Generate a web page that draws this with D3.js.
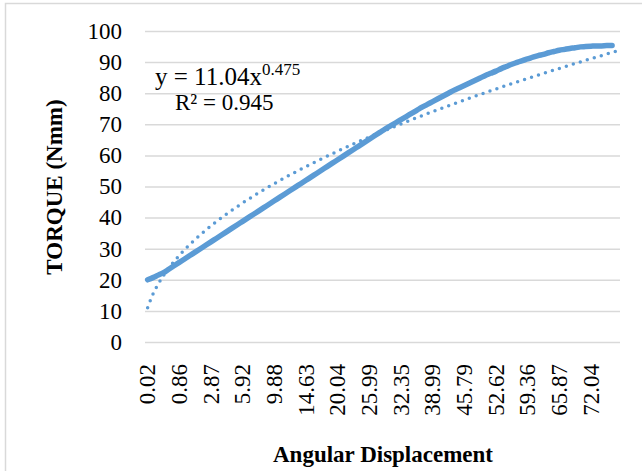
<!DOCTYPE html>
<html>
<head>
<meta charset="utf-8">
<script src="https://cdn.jsdelivr.net/npm/d3@7"></script>
<style>
  body { margin: 0; background: #fff; }
  svg { display: block; }
</style>
</head>
<body>
<div id="chart"></div>
<script>

// torque, one value per category (the last category has no point)
var torque = [
  20.0, 20.7, 21.5, 22.3, 23.4, 24.5, 25.6, 26.7, 27.8, 28.9,
  30.0, 31.1, 32.2, 33.3, 34.4, 35.5, 36.6, 37.7, 38.8, 39.9,
  41.0, 42.1, 43.2, 44.3, 45.4, 46.5, 47.6, 48.7, 49.8, 50.9,
  52.0, 53.1, 54.2, 55.3, 56.4, 57.5, 58.6, 59.7, 60.8, 61.9,
  63.0, 64.1, 65.2, 66.3, 67.4, 68.5, 69.5, 70.5, 71.5, 72.5,
  73.5, 74.5, 75.5, 76.4, 77.3, 78.2, 79.1, 80.0, 80.9, 81.7,
  82.5, 83.3, 84.1, 84.9, 85.7, 86.4, 87.1, 87.9, 88.6, 89.3,
  89.9, 90.5, 91.0, 91.6, 92.1, 92.5, 93.0, 93.4, 93.8, 94.1,
  94.4, 94.6, 94.9, 95.0, 95.1, 95.2, 95.2, 95.3, 95.3
];
var nCategories = 90;
// only every 6th angular displacement is printed on the axis
var xLabels = ["0.02", "0.86", "2.87", "5.92", "9.88", "14.63", "20.04", "25.99",
               "32.35", "38.99", "45.79", "52.62", "59.36", "65.87", "72.04"];
var labelEvery = 6;
var yTicks = [0, 10, 20, 30, 40, 50, 60, 70, 80, 90, 100];

// power trendline shown on the chart: y = 11.04 x^0.475
var trendA = 11.04, trendB = 0.475, trendR2 = "0.945";

var W = 642, H = 471;
var plotL = 145, plotR = 620, plotT = 31, plotB = 342;
var blue = "#5b9bd5", grid = "#d9d9d9";
var serif = "'Liberation Serif', 'Times New Roman', serif";

var svg = d3.select("#chart").append("svg")
    .attr("width", W)
    .attr("height", H);

// chart area frame
svg.append("rect")
    .attr("x", 5.5).attr("y", 3.5)
    .attr("width", W + 20).attr("height", H + 20)
    .attr("fill", "#fff")
    .attr("stroke", grid)
    .attr("stroke-width", 1.5);

var x = d3.scaleBand()
    .domain(d3.range(nCategories))
    .range([plotL, plotR])
    .padding(0);
var cx = function(i) { return x(i) + x.bandwidth() / 2; };

var y = d3.scaleLinear().domain([0, 100]).range([plotB, plotT]);

// gridlines + y labels
var yAxis = svg.append("g")
    .attr("transform", "translate(" + plotL + ",0)")
    .call(d3.axisLeft(y).tickValues(yTicks).tickSize(-(plotR - plotL)).tickPadding(23));
yAxis.select(".domain").remove();
yAxis.selectAll(".tick line")
    .attr("stroke", grid)
    .attr("stroke-width", 1.5);
yAxis.selectAll(".tick text")
    .attr("font-family", serif)
    .attr("font-size", "23px")
    .attr("fill", "#000");

// category labels, rotated
var labelIdx = xLabels.map(function(d, i) { return i * labelEvery; });
svg.append("g").selectAll("text")
    .data(labelIdx)
    .enter().append("text")
    .attr("transform", function(d) { return "translate(" + cx(d) + ",364) rotate(-90)"; })
    .attr("text-anchor", "end")
    .attr("dy", "0.34em")
    .attr("font-family", serif)
    .attr("font-size", "23px")
    .attr("fill", "#000")
    .text(function(d, i) { return xLabels[i]; });

// data line
var line = d3.line()
    .x(function(d, i) { return cx(i); })
    .y(function(d) { return y(d); })
    .curve(d3.curveMonotoneX);

svg.append("path")
    .datum(torque)
    .attr("d", line)
    .attr("fill", "none")
    .attr("stroke", blue)
    .attr("stroke-width", 5.5)
    .attr("stroke-linecap", "round")
    .attr("stroke-linejoin", "round");

// dotted trendline
var trend = d3.range(nCategories).map(function(i) { return trendA * Math.pow(i + 1, trendB); });
svg.append("path")
    .datum(trend)
    .attr("d", line)
    .attr("fill", "none")
    .attr("stroke", blue)
    .attr("stroke-width", 3.5)
    .attr("stroke-linecap", "round")
    .attr("stroke-dasharray", "0 7.3");

// trendline label
var eq = svg.append("text")
    .attr("x", 155).attr("y", 85)
    .attr("font-family", serif)
    .attr("font-size", "25px")
    .attr("fill", "#000");
eq.append("tspan").text("y = " + trendA.toFixed(2) + "x");
eq.append("tspan")
    .attr("dy", -10)
    .attr("font-size", "17px")
    .text(trendB.toFixed(3));

svg.append("text")
    .attr("x", 175).attr("y", 110)
    .attr("font-family", serif)
    .attr("font-size", "23px")
    .attr("fill", "#000")
    .text("R² = " + trendR2);

// axis titles
svg.append("text")
    .attr("transform", "translate(54,187) rotate(-90)")
    .attr("text-anchor", "middle")
    .attr("dy", "0.35em")
    .attr("font-family", serif)
    .attr("font-weight", "bold")
    .attr("font-size", "23px")
    .attr("fill", "#000")
    .text("TORQUE (Nmm)");

svg.append("text")
    .attr("x", 383).attr("y", 462)
    .attr("text-anchor", "middle")
    .attr("font-family", serif)
    .attr("font-weight", "bold")
    .attr("font-size", "23px")
    .attr("fill", "#000")
    .text("Angular Displacement");

</script>
</body>
</html>
